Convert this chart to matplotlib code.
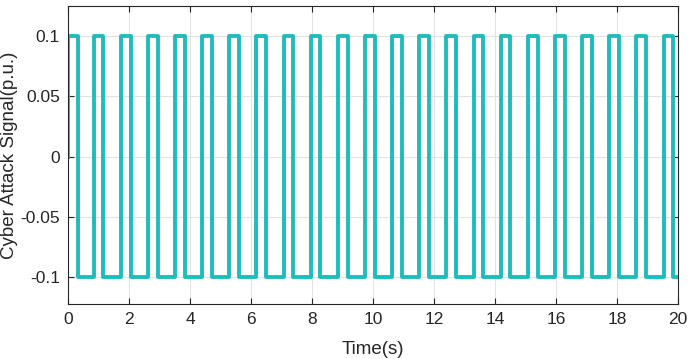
import numpy as np
import matplotlib
matplotlib.use("Agg")
import matplotlib.pyplot as plt

# switching instants (seconds)
rise_times = [0.83, 1.72, 2.61, 3.50, 4.39, 5.28, 6.17, 7.06, 7.95, 8.84, 9.73,
              10.62, 11.51, 12.40, 13.29, 14.18, 15.07, 15.96, 16.85, 17.74, 18.63, 19.52]
fall_times = [0.32, 1.15, 2.04, 2.93, 3.82, 4.71, 5.60, 6.49, 7.38, 8.27, 9.16, 10.05,
              10.94, 11.83, 12.72, 13.61, 14.50, 15.39, 16.28, 17.17, 18.06, 18.95, 19.84]
high_level = 0.1
low_level = -0.1
t_start, t_end = 0.0, 20.0

xticks = [0, 2, 4, 6, 8, 10, 12, 14, 16, 18, 20]
yticks = [-0.1, -0.05, 0, 0.05, 0.1]
ytick_labels = ["-0.1", "-0.05", "0", "0.05", "0.1"]

# build step signal from the edges
t = [t_start, t_start]
y = [0.0, high_level]
for i, f in enumerate(fall_times):
    t += [f, f]
    y += [high_level, low_level]
    if i < len(rise_times):
        r = rise_times[i]
        t += [r, r]
        y += [low_level, high_level]
t.append(t_end)
y.append(low_level)

plt.rcParams["font.family"] = ["Liberation Sans", "DejaVu Sans"]
plt.rcParams["axes.unicode_minus"] = False

fig = plt.figure(figsize=(6.92, 3.59), dpi=100)
ax = fig.add_axes([0.0987, 0.153, 0.8813, 0.830])
ax.plot(t, y, color="#1fbcbc", lw=2.8, solid_joinstyle="round")

ax.set_xlim(0, 20)
ax.set_ylim(-0.1225, 0.125)
ax.set_xticks(xticks)
ax.set_yticks(yticks)
ax.set_yticklabels(ytick_labels)
ax.tick_params(direction="in", length=4, width=0.8, labelsize=12.5, top=True, right=True,
               colors="#262626", pad=6)
ax.grid(True, color="#e2e2e2", lw=0.8)
for s in ax.spines.values():
    s.set_color("#262626")
    s.set_linewidth(0.8)
ax.set_xlabel("Time(s)", fontsize=13.5, color="#262626")
ax.xaxis.set_label_coords(0.5, -0.125)
ax.set_ylabel("Cyber Attack Signal(p.u.)", fontsize=13.5, color="#262626")
ax.yaxis.set_label_coords(-0.083, 0.5)

fig.savefig("out.png", dpi=100)
